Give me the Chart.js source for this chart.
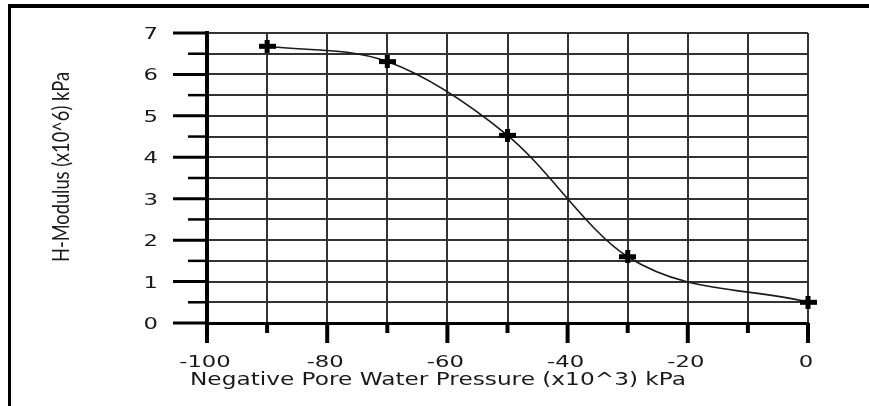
<!DOCTYPE html>
<html>
<head>
<meta charset="utf-8">
<script src="https://cdn.jsdelivr.net/npm/chart.js@4"></script>
<style>
  html, body { margin: 0; padding: 0; background: #fff; }
  #wrap { position: relative; width: 869px; height: 406px; overflow: hidden; }
  #frame {
    position: absolute; left: 8px; top: 4px; width: 900px; height: 500px;
    border-top: 4px solid #000; border-left: 3px solid #000;
  }
  canvas { position: absolute; left: 0; top: 0; }
</style>
</head>
<body>
<div id="wrap">
  <div id="frame"></div>
  <canvas id="hModChart" width="869" height="406"></canvas>
</div>
<script>
// pore water pressure (x10^3 kPa) and H-modulus (x10^6 kPa)
const pressure = [-90, -70, -50, -30, 0];
const hModulus = [6.68, 6.31, 4.53, 1.6, 0.5];

const xTitle = 'Negative Pore Water Pressure (x10^3) kPa';
const yTitle = 'H-Modulus (x10^6) kPa';

const textColor = '#1a1a1a';
const gridColor = '#333';

// plus marker, a little wider than tall
const plus = document.createElement('canvas');
plus.width = 17;
plus.height = 13;
{
  const c = plus.getContext('2d');
  c.fillStyle = '#000';
  c.fillRect(0, 4, 17, 5);
  c.fillRect(6, 0, 5, 13);
}

// draws text stretched horizontally around (x, y)
function wideText(ctx, text, x, y, sx, align) {
  ctx.save();
  ctx.translate(x, y);
  ctx.scale(sx, 1);
  ctx.textAlign = align;
  ctx.fillText(text, 0, 0);
  ctx.restore();
}

// tick marks and labels outside the plot
const axisDecor = {
  id: 'axisDecor',
  afterDatasetsDraw(chart) {
    const ctx = chart.ctx;
    const area = chart.chartArea;
    const xs = chart.scales.x;
    const ys = chart.scales.y;
    ctx.save();
    ctx.strokeStyle = '#000';
    ctx.fillStyle = textColor;
    ctx.font = '16px "DejaVu Sans"';
    ctx.textBaseline = 'alphabetic';
    xs.ticks.forEach((t) => {
      const px = xs.getPixelForValue(t.value);
      const major = t.value % 20 === 0;
      ctx.lineWidth = 4;
      ctx.beginPath();
      ctx.moveTo(px, area.bottom);
      ctx.lineTo(px, area.bottom + (major ? 20 : 10));
      ctx.stroke();
      if (major) wideText(ctx, String(t.value), px - 2, area.bottom + 44, 1.42, 'center');
    });
    ys.ticks.forEach((t) => {
      const py = ys.getPixelForValue(t.value);
      const major = Number.isInteger(t.value);
      ctx.lineWidth = major ? 3 : 2.5;
      ctx.beginPath();
      ctx.moveTo(area.left, py);
      ctx.lineTo(area.left - (major ? 34 : 19), py);
      ctx.stroke();
      if (major) wideText(ctx, String(t.value), area.left - 49, py + 6, 1.42, 'right');
    });

    // axis titles
    ctx.font = '18px "DejaVu Sans"';
    const w = ctx.measureText(xTitle).width;
    wideText(ctx, xTitle, 190, 385, 496 / w, 'left');

    ctx.translate(61, 167);
    ctx.rotate(-Math.PI / 2);
    ctx.font = '18px Lato';
    const h = ctx.measureText(yTitle).width;
    ctx.scale(190 / h, 1.3);
    ctx.textAlign = 'center';
    ctx.textBaseline = 'middle';
    ctx.fillText(yTitle, 0, 0);
    ctx.restore();
  }
};

new Chart(document.querySelector('#hModChart'), {
  type: 'scatter',
  data: {
    datasets: [{
      data: pressure.map((p, i) => ({ x: p, y: hModulus[i] })),
      showLine: true,
      clip: false,
      cubicInterpolationMode: 'monotone',
      borderColor: '#1a1a1a',
      borderWidth: 1.6,
      pointStyle: plus,
      pointRadius: 8,
      pointHoverRadius: 8
    }]
  },
  options: {
    responsive: false,
    animation: false,
    layout: { padding: { left: 0, top: 33, right: 61, bottom: 0 } },
    scales: {
      x: {
        type: 'linear',
        min: -100,
        max: 0,
        afterFit(scale) { scale.height = 83; },
        ticks: { stepSize: 10, display: false },
        grid: { color: gridColor, lineWidth: 2, drawTicks: false },
        border: { color: '#000', width: 3 }
      },
      y: {
        min: 0,
        max: 7,
        afterFit(scale) { scale.width = 207; },
        ticks: { stepSize: 0.5, display: false },
        grid: { color: gridColor, lineWidth: 2, drawTicks: false },
        border: { color: '#000', width: 4 }
      }
    },
    plugins: {
      legend: { display: false },
      tooltip: { enabled: false }
    }
  },
  plugins: [axisDecor]
});
</script>
</body>
</html>
